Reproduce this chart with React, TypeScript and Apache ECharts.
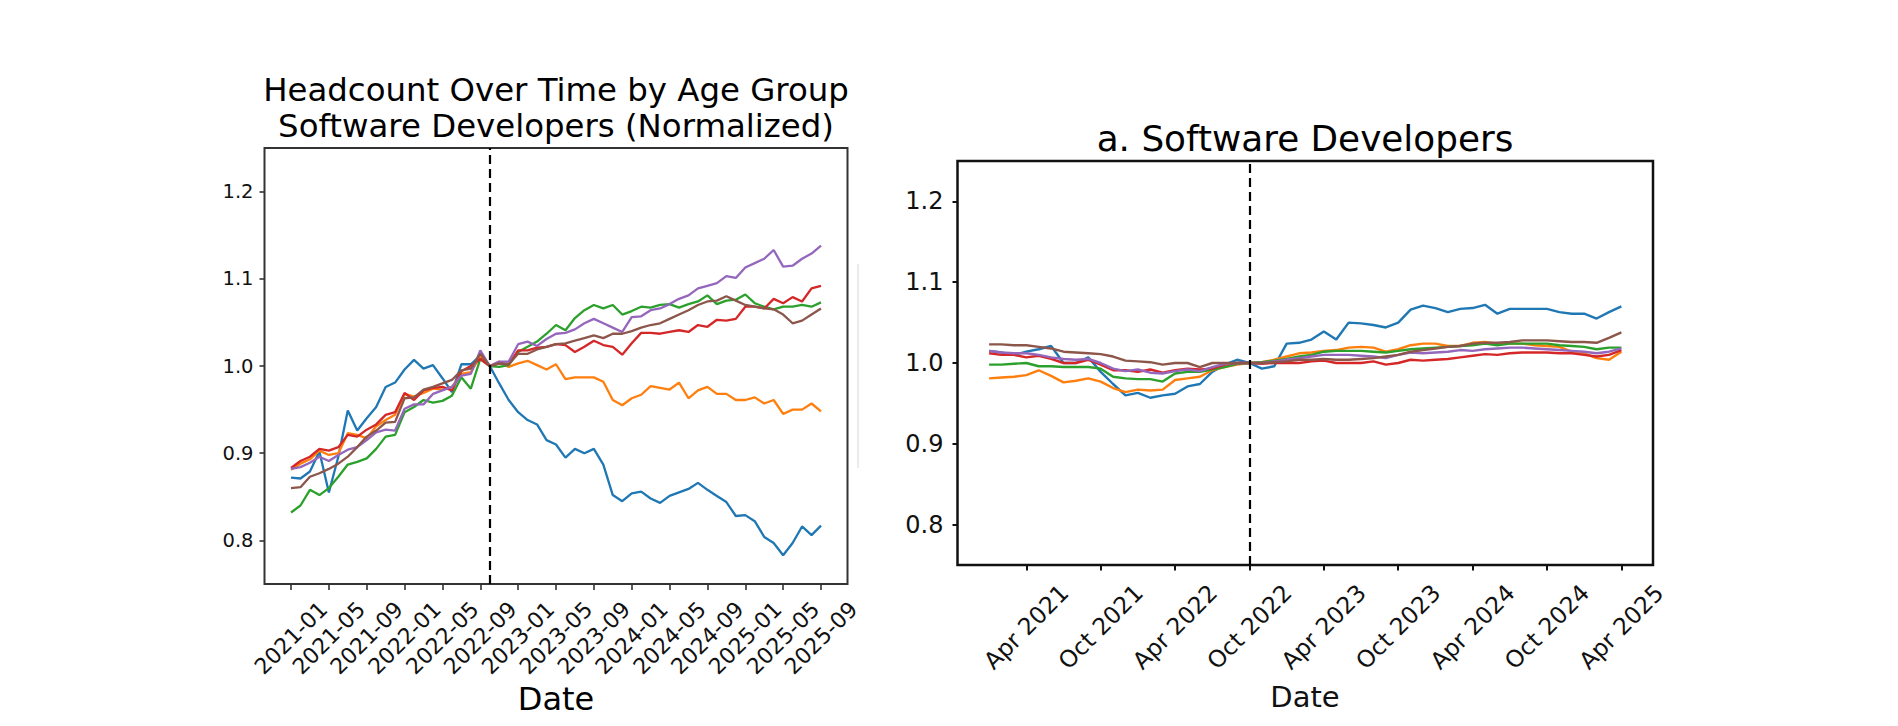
import { useEffect, useRef } from "react";
import * as echarts from "echarts";

// tab10 colours, in plotting order
const seriesColors = ["#1f77b4", "#ff7f0e", "#2ca02c", "#d62728", "#9467bd", "#8c564b"];

// left panel: monthly, 2021-01 .. 2025-09 (index 0 = 2021-01)
const leftTickIndex = [0, 4, 8, 12, 16, 20, 24, 28, 32, 36, 40, 44, 48, 52, 56];
const leftTickLabels = [
  "2021-01", "2021-05", "2021-09", "2022-01", "2022-05", "2022-09", "2023-01", "2023-05",
  "2023-09", "2024-01", "2024-05", "2024-09", "2025-01", "2025-05", "2025-09",
];

const leftBlue = [
  0.872, 0.871, 0.879, 0.902, 0.855, 0.896, 0.949, 0.926, 0.94, 0.953,
  0.976, 0.981, 0.996, 1.007, 0.997, 1.001, 0.986, 0.97, 1.002, 1.002,
  1.012, 1.0, 0.98, 0.961, 0.947, 0.938, 0.933, 0.915, 0.91, 0.895,
  0.905, 0.9, 0.905, 0.887, 0.852, 0.845, 0.854, 0.856, 0.848, 0.843,
  0.851, 0.855, 0.859, 0.866, 0.858, 0.851, 0.844, 0.828, 0.829, 0.822,
  0.804, 0.797, 0.783, 0.797, 0.816, 0.806, 0.817,
];
const leftOrange = [
  0.881, 0.888, 0.893, 0.903, 0.898, 0.9, 0.923, 0.921, 0.917, 0.931,
  0.938, 0.944, 0.968, 0.965, 0.969, 0.974, 0.973, 0.976, 0.991, 0.993,
  1.011, 1.0, 1.005, 0.999, 1.003, 1.006, 1.001, 0.996, 1.002, 0.985,
  0.987, 0.987, 0.987, 0.982, 0.961, 0.955, 0.963, 0.967, 0.977, 0.975,
  0.973, 0.981, 0.963, 0.972, 0.976, 0.968, 0.968, 0.961, 0.961, 0.964,
  0.957, 0.961, 0.945, 0.95, 0.95, 0.957, 0.948,
];
const leftGreen = [
  0.832, 0.84, 0.858, 0.852, 0.86, 0.873, 0.887, 0.89, 0.894, 0.905,
  0.919, 0.921, 0.947, 0.953, 0.961, 0.958, 0.96, 0.966, 0.987, 0.974,
  1.008, 1.0, 0.999, 1.001, 1.016, 1.022, 1.028, 1.037, 1.047, 1.041,
  1.055, 1.064, 1.07, 1.066, 1.07, 1.059, 1.063, 1.068, 1.067, 1.07,
  1.071, 1.067, 1.071, 1.074, 1.081, 1.071, 1.075, 1.076, 1.082, 1.072,
  1.068, 1.065, 1.068, 1.068, 1.07, 1.068, 1.073,
];
const leftRed = [
  0.883, 0.891, 0.896, 0.905, 0.903, 0.907, 0.921, 0.919, 0.927, 0.933,
  0.944, 0.947, 0.969, 0.961, 0.972, 0.975, 0.976, 0.972, 0.994, 1.0,
  1.008, 1.0, 1.003, 1.002, 1.018, 1.018, 1.021, 1.022, 1.025, 1.024,
  1.016, 1.022, 1.029, 1.024, 1.022, 1.013, 1.026, 1.038, 1.038, 1.037,
  1.039, 1.041, 1.039, 1.047, 1.045, 1.053, 1.052, 1.054, 1.068, 1.068,
  1.066, 1.077, 1.072, 1.079, 1.074, 1.089, 1.092,
];
const leftPurple = [
  0.882, 0.884, 0.889, 0.896, 0.891, 0.898, 0.904, 0.907, 0.915, 0.924,
  0.927, 0.926, 0.951, 0.956, 0.956, 0.968, 0.972, 0.976, 0.989, 0.991,
  1.018, 1.0, 1.005, 1.005, 1.025, 1.028, 1.023, 1.031, 1.037, 1.038,
  1.042, 1.049, 1.054, 1.049, 1.044, 1.039, 1.056, 1.057, 1.064, 1.066,
  1.071, 1.077, 1.081, 1.089, 1.092, 1.095, 1.103, 1.101, 1.113, 1.118,
  1.123, 1.133, 1.114, 1.115, 1.123, 1.129, 1.138,
];
const leftBrown = [
  0.86, 0.861, 0.873, 0.877, 0.882, 0.888, 0.896, 0.907, 0.919, 0.926,
  0.935, 0.936, 0.963, 0.964, 0.973, 0.976, 0.98, 0.984, 0.995, 0.997,
  1.014, 1.0, 1.003, 1.002, 1.014, 1.014, 1.019, 1.022, 1.025, 1.026,
  1.029, 1.032, 1.035, 1.032, 1.037, 1.037, 1.04, 1.044, 1.047, 1.049,
  1.054, 1.059, 1.064, 1.07, 1.074, 1.075, 1.08, 1.075, 1.07, 1.068,
  1.066, 1.065, 1.059, 1.049, 1.052, 1.059, 1.066,
];

// right panel: monthly, Jan 2021 .. Apr 2025 (index 0 = Jan 2021)
const rightTickIndex = [3, 9, 15, 21, 27, 33, 39, 45, 51];
const rightTickLabels = [
  "Apr 2021", "Oct 2021", "Apr 2022", "Oct 2022", "Apr 2023",
  "Oct 2023", "Apr 2024", "Oct 2024", "Apr 2025",
];

const rightBlue = [
  1.015, 1.013, 1.01, 1.014, 1.017, 1.021, 1.0, 1.0, 1.007, 0.989,
  0.974, 0.96, 0.963, 0.957, 0.96, 0.962, 0.971, 0.974, 0.989, 0.998,
  1.004, 1.0, 0.993, 0.996, 1.024, 1.025, 1.029, 1.039, 1.029, 1.05,
  1.049, 1.047, 1.044, 1.05, 1.066, 1.071, 1.068, 1.063, 1.067, 1.068,
  1.072, 1.061, 1.067, 1.067, 1.067, 1.067, 1.063, 1.061, 1.061, 1.055,
  1.063, 1.07,
];
const rightOrange = [
  0.981, 0.982, 0.983, 0.985, 0.991, 0.984, 0.976, 0.978, 0.981, 0.977,
  0.969, 0.964, 0.967, 0.966, 0.967, 0.979, 0.981, 0.983, 0.991, 0.995,
  0.998, 1.0, 1.001, 1.004, 1.008, 1.012, 1.013, 1.015, 1.016, 1.019,
  1.02, 1.019, 1.014, 1.017, 1.022, 1.024, 1.024, 1.021, 1.021, 1.025,
  1.026, 1.024, 1.024, 1.024, 1.022, 1.021, 1.02, 1.014, 1.012, 1.006,
  1.004, 1.014,
];
const rightGreen = [
  0.998, 0.998, 0.999, 1.0, 0.996, 0.996, 0.995, 0.995, 0.995, 0.993,
  0.983, 0.981, 0.98, 0.98, 0.977, 0.987, 0.989, 0.989, 0.992, 0.995,
  0.999, 1.0, 1.001, 1.003, 1.005, 1.008, 1.01, 1.014, 1.015, 1.015,
  1.015, 1.014, 1.013, 1.015, 1.017, 1.018, 1.019, 1.02, 1.021, 1.022,
  1.024, 1.022, 1.024, 1.024, 1.024, 1.024, 1.022, 1.021, 1.02, 1.017,
  1.019, 1.019,
];
const rightRed = [
  1.012, 1.01, 1.01, 1.007, 1.009, 1.005, 1.0, 1.0, 1.004, 0.998,
  0.991, 0.991, 0.989, 0.992, 0.988, 0.991, 0.993, 0.992, 0.993, 0.998,
  1.0, 1.0, 0.999, 1.0, 1.0, 1.0, 1.002, 1.003, 1.0, 1.0,
  1.0, 1.002, 0.998, 1.0, 1.004, 1.003, 1.004, 1.005, 1.007, 1.009,
  1.011, 1.01, 1.012, 1.013, 1.013, 1.013, 1.012, 1.012, 1.01, 1.008,
  1.01, 1.016,
];
const rightPurple = [
  1.015, 1.013, 1.012, 1.012, 1.01, 1.007, 1.005, 1.004, 1.005, 1.0,
  0.993, 0.99, 0.992, 0.988, 0.987, 0.99, 0.992, 0.99, 0.995, 0.999,
  1.0, 1.0, 1.0, 1.002, 1.004, 1.006, 1.008, 1.01, 1.01, 1.01,
  1.009, 1.008, 1.006, 1.01, 1.013, 1.012, 1.013, 1.014, 1.016, 1.015,
  1.017, 1.018, 1.019, 1.019, 1.018, 1.017, 1.016, 1.015, 1.014, 1.012,
  1.014, 1.018,
];
const rightBrown = [
  1.023, 1.023, 1.022, 1.022, 1.02, 1.018, 1.014, 1.013, 1.012, 1.011,
  1.008, 1.003, 1.002, 1.001, 0.998, 1.0, 1.0, 0.995, 1.0, 1.0,
  1.0, 1.0, 1.0, 1.001, 1.002, 1.004, 1.004, 1.005, 1.004, 1.004,
  1.005, 1.006, 1.008, 1.01, 1.014, 1.016, 1.018, 1.02, 1.021, 1.024,
  1.025, 1.025, 1.026, 1.028, 1.028, 1.028, 1.027, 1.026, 1.026, 1.025,
  1.031, 1.038,
];

const yTicks = [0.8, 0.9, 1.0, 1.1, 1.2];
const cutoffIndex = 21; // Oct 2022

const FONT = "DejaVu Sans";

function makeLine(values: number[], color: string, axis: number, width: number) {
  return {
    type: "line",
    xAxisIndex: axis,
    yAxisIndex: axis,
    data: values.map((v, i) => [i, v]),
    symbol: "none",
    showSymbol: false,
    lineStyle: { color, width },
    itemStyle: { color },
  };
}

function cutoffLine(axis: number, width: number) {
  return {
    type: "line",
    xAxisIndex: axis,
    yAxisIndex: axis,
    data: [],
    z: 5,
    markLine: {
      silent: true,
      symbol: ["none", "none"],
      label: { show: false },
      lineStyle: { color: "#000", type: [9, 5], width },
      data: [{ xAxis: cutoffIndex }],
    },
  };
}

export default function App() {
  const chartRef = useRef<HTMLDivElement>(null);

  useEffect(() => {
    document.body.style.margin = "0";
    if (!chartRef.current) return;
    const chart = echarts.init(chartRef.current, undefined, { renderer: "svg" });

    const leftSets = [leftBlue, leftOrange, leftGreen, leftRed, leftPurple, leftBrown];
    const rightSets = [rightBlue, rightOrange, rightGreen, rightRed, rightPurple, rightBrown];

    const option = {
      animation: false,
      backgroundColor: "#fff",
      textStyle: { fontFamily: FONT },
      grid: [
        { left: 264.5, top: 148, width: 583, height: 436, show: true, borderColor: "#333", borderWidth: 2, backgroundColor: "transparent" },
        { left: 957.5, top: 161, width: 695.5, height: 404, show: true, borderColor: "#111", borderWidth: 2.5, backgroundColor: "transparent" },
      ],
      xAxis: [
        {
          type: "value",
          gridIndex: 0,
          min: -2.8,
          max: 58.8,
          splitLine: { show: false },
          axisLine: { show: false, onZero: false },
          axisTick: { show: true, customValues: leftTickIndex, length: 6, lineStyle: { color: "#333", width: 1.6 } },
          axisLabel: {
            customValues: leftTickIndex,
            formatter: (v: number) => leftTickLabels[leftTickIndex.indexOf(Math.round(v))] ?? "",
            rotate: 45,
            align: "center",
            verticalAlign: "middle",
            margin: 54,
            fontSize: 22,
            color: "#111",
            fontFamily: FONT,
          },
        },
        {
          type: "value",
          gridIndex: 1,
          min: -2.55,
          max: 53.55,
          splitLine: { show: false },
          axisLine: { show: false, onZero: false },
          axisTick: { show: true, customValues: rightTickIndex, length: 5.5, lineStyle: { color: "#111", width: 2 } },
          axisLabel: {
            customValues: rightTickIndex,
            formatter: (v: number) => rightTickLabels[rightTickIndex.indexOf(Math.round(v))] ?? "",
            rotate: 45,
            align: "center",
            verticalAlign: "middle",
            margin: 62,
            fontSize: 23.5,
            color: "#111",
            fontFamily: FONT,
          },
        },
      ],
      yAxis: [
        {
          type: "value",
          gridIndex: 0,
          min: 0.75,
          max: 1.25,
          splitLine: { show: false },
          axisLine: { show: false, onZero: false },
          axisTick: { show: true, customValues: yTicks, length: 5, lineStyle: { color: "#333", width: 1.6 } },
          axisLabel: {
            customValues: yTicks,
            formatter: (v: number) => v.toFixed(1),
            margin: 11,
            fontSize: 19.5,
            color: "#111",
            fontFamily: FONT,
          },
        },
        {
          type: "value",
          gridIndex: 1,
          min: 0.75,
          max: 1.25,
          splitLine: { show: false },
          axisLine: { show: false, onZero: false },
          axisTick: { show: true, customValues: yTicks, length: 5, lineStyle: { color: "#111", width: 2 } },
          axisLabel: {
            customValues: yTicks,
            formatter: (v: number) => v.toFixed(1),
            margin: 14,
            fontSize: 24,
            color: "#111",
            fontFamily: FONT,
          },
        },
      ],
      graphic: [
        {
          type: "text",
          x: 556,
          y: 90,
          style: { text: "Headcount Over Time by Age Group", fontSize: 32.4, fontFamily: FONT, fill: "#000", align: "center", verticalAlign: "middle" },
        },
        {
          type: "text",
          x: 556,
          y: 126,
          style: { text: "Software Developers (Normalized)", fontSize: 32.4, fontFamily: FONT, fill: "#000", align: "center", verticalAlign: "middle" },
        },
        {
          type: "text",
          x: 556,
          y: 699,
          style: { text: "Date", fontSize: 32, fontFamily: FONT, fill: "#000", align: "center", verticalAlign: "middle" },
        },
        {
          type: "text",
          x: 1305,
          y: 138,
          style: { text: "a. Software Developers", fontSize: 35.8, fontFamily: FONT, fill: "#000", align: "center", verticalAlign: "middle" },
        },
        {
          type: "text",
          x: 1305,
          y: 697,
          style: { text: "Date", fontSize: 29, fontFamily: FONT, fill: "#111", align: "center", verticalAlign: "middle" },
        },
        {
          type: "line",
          shape: { x1: 858, y1: 264, x2: 858, y2: 468 },
          style: { stroke: "#d8d8d8", lineWidth: 1 },
        },
      ],
      series: [
        ...leftSets.map((vals, k) => makeLine(vals, seriesColors[k], 0, 2.3)),
        cutoffLine(0, 2.2),
        ...rightSets.map((vals, k) => makeLine(vals, seriesColors[k], 1, 2.4)),
        cutoffLine(1, 2.2),
      ],
    };

    chart.setOption(option as any);
    return () => chart.dispose();
  }, []);

  return <div ref={chartRef} style={{ width: 1898, height: 726 }} />;
}
